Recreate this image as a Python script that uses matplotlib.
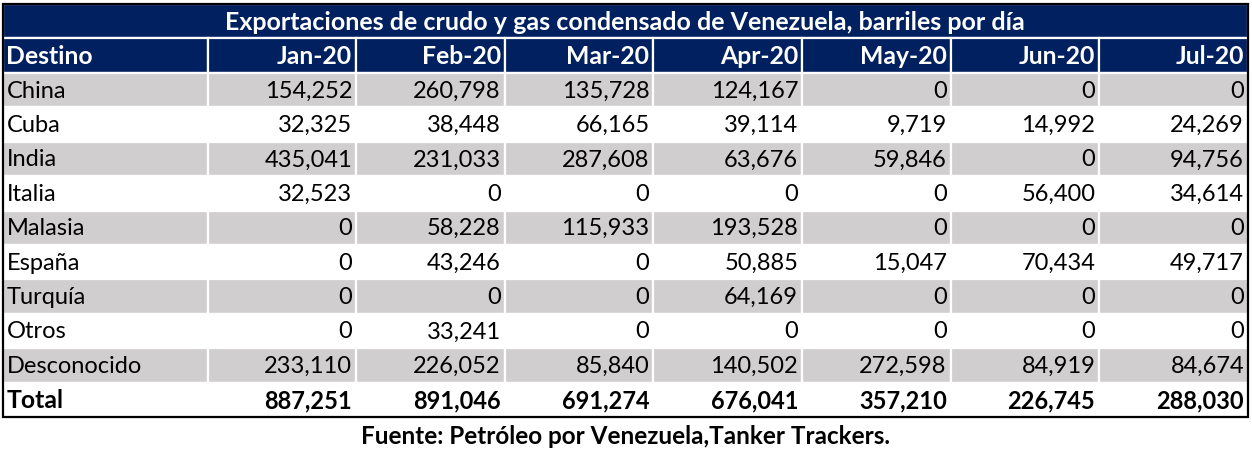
import matplotlib.pyplot as plt
from matplotlib.patches import Rectangle

titulo = "Exportaciones de crudo y gas condensado de Venezuela, barriles por día"
fuente = "Fuente: Petróleo por Venezuela,Tanker Trackers."
meses = ["Jan-20", "Feb-20", "Mar-20", "Apr-20", "May-20", "Jun-20", "Jul-20"]
destinos = ["China", "Cuba", "India", "Italia", "Malasia", "España", "Turquía", "Otros", "Desconocido"]

china = [154252, 260798, 135728, 124167, 0, 0, 0]
cuba = [32325, 38448, 66165, 39114, 9719, 14992, 24269]
india = [435041, 231033, 287608, 63676, 59846, 0, 94756]
italia = [32523, 0, 0, 0, 0, 56400, 34614]
malasia = [0, 58228, 115933, 193528, 0, 0, 0]
espana = [0, 43246, 0, 50885, 15047, 70434, 49717]
turquia = [0, 0, 0, 64169, 0, 0, 0]
otros = [0, 33241, 0, 0, 0, 0, 0]
desconocido = [233110, 226052, 85840, 140502, 272598, 84919, 84674]
total = [887251, 891046, 691274, 676041, 357210, 226745, 288030]

filas = [china, cuba, india, italia, malasia, espana, turquia, otros, desconocido]

NAVY = "#002060"
GRAY = "#D0CECE"
FONT = "Lato"
FS = 17
FS_HEAD = 17.8

W, H = 1252, 451
fig = plt.figure(figsize=(W / 100, H / 100), dpi=100)
ax = fig.add_axes([0, 0, 1, 1])
ax.set_xlim(0, W)
ax.set_ylim(H, 0)
ax.axis("off")

# layout in pixels
x0 = 2.5
w_first = 205
w_col = (1248 - x0 - w_first) / len(meses)
col_left = [x0] + [x0 + w_first + i * w_col for i in range(len(meses))]
col_w = [w_first] + [w_col] * len(meses)
x1 = col_left[-1] + col_w[-1]
y_title = 4
h_title = 34
y_head = y_title + h_title
row_h = 34.4
y_data = y_head + 35


def cell(x, y, w, h, color, edge):
    ax.add_patch(Rectangle((x, y), w, h, facecolor=color, edgecolor=edge, lw=1.6))


# title row
cell(x0, y_title, x1 - x0, h_title, NAVY, "white")
ax.text((x0 + x1) / 2, y_title + h_title / 2 + 1, titulo, color="white", fontsize=18,
        fontweight="bold", family=FONT, ha="center", va="center")

# header row
for j in range(len(col_left)):
    cell(col_left[j], y_head, col_w[j], y_data - y_head, NAVY, "white")
    yc = (y_head + y_data) / 2 + 1
    if j == 0:
        ax.text(col_left[j] + 4, yc, "Destino", color="white", fontsize=FS_HEAD,
                fontweight="bold", family=FONT, ha="left", va="center")
    else:
        ax.text(col_left[j] + col_w[j] - 4, yc, meses[j - 1], color="white", fontsize=FS_HEAD,
                fontweight="bold", family=FONT, ha="right", va="center")

# data rows
for i, (nombre, valores) in enumerate(zip(destinos + ["Total"], filas + [total])):
    y = y_data + i * row_h
    bold = nombre == "Total"
    color = GRAY if i % 2 == 0 and not bold else "white"
    for j in range(len(col_left)):
        cell(col_left[j], y, col_w[j], row_h, color, "white")
    yc = y + row_h / 2 + 1
    ax.text(col_left[0] + 4, yc, nombre, color="black", fontsize=FS_HEAD if bold else FS,
            family=FONT, fontweight="bold" if bold else "normal", ha="left", va="center")
    for j, v in enumerate(valores):
        ax.text(col_left[j + 1] + col_w[j + 1] - 4, yc, f"{v:,}", color="black",
                fontsize=FS, family=FONT, fontweight="bold" if bold else "normal",
                ha="right", va="center")

y_end = y_data + (len(destinos) + 1) * row_h
# outer border
ax.add_patch(Rectangle((x0, y_title), x1 - x0, y_end - y_title, facecolor="none",
                       edgecolor="black", lw=1.6, zorder=5))

ax.text((x0 + x1) / 2, 436, fuente, color="black", fontsize=17.5, fontweight="bold",
        family=FONT, ha="center", va="center")

fig.savefig("out.png", dpi=100, facecolor="white")
